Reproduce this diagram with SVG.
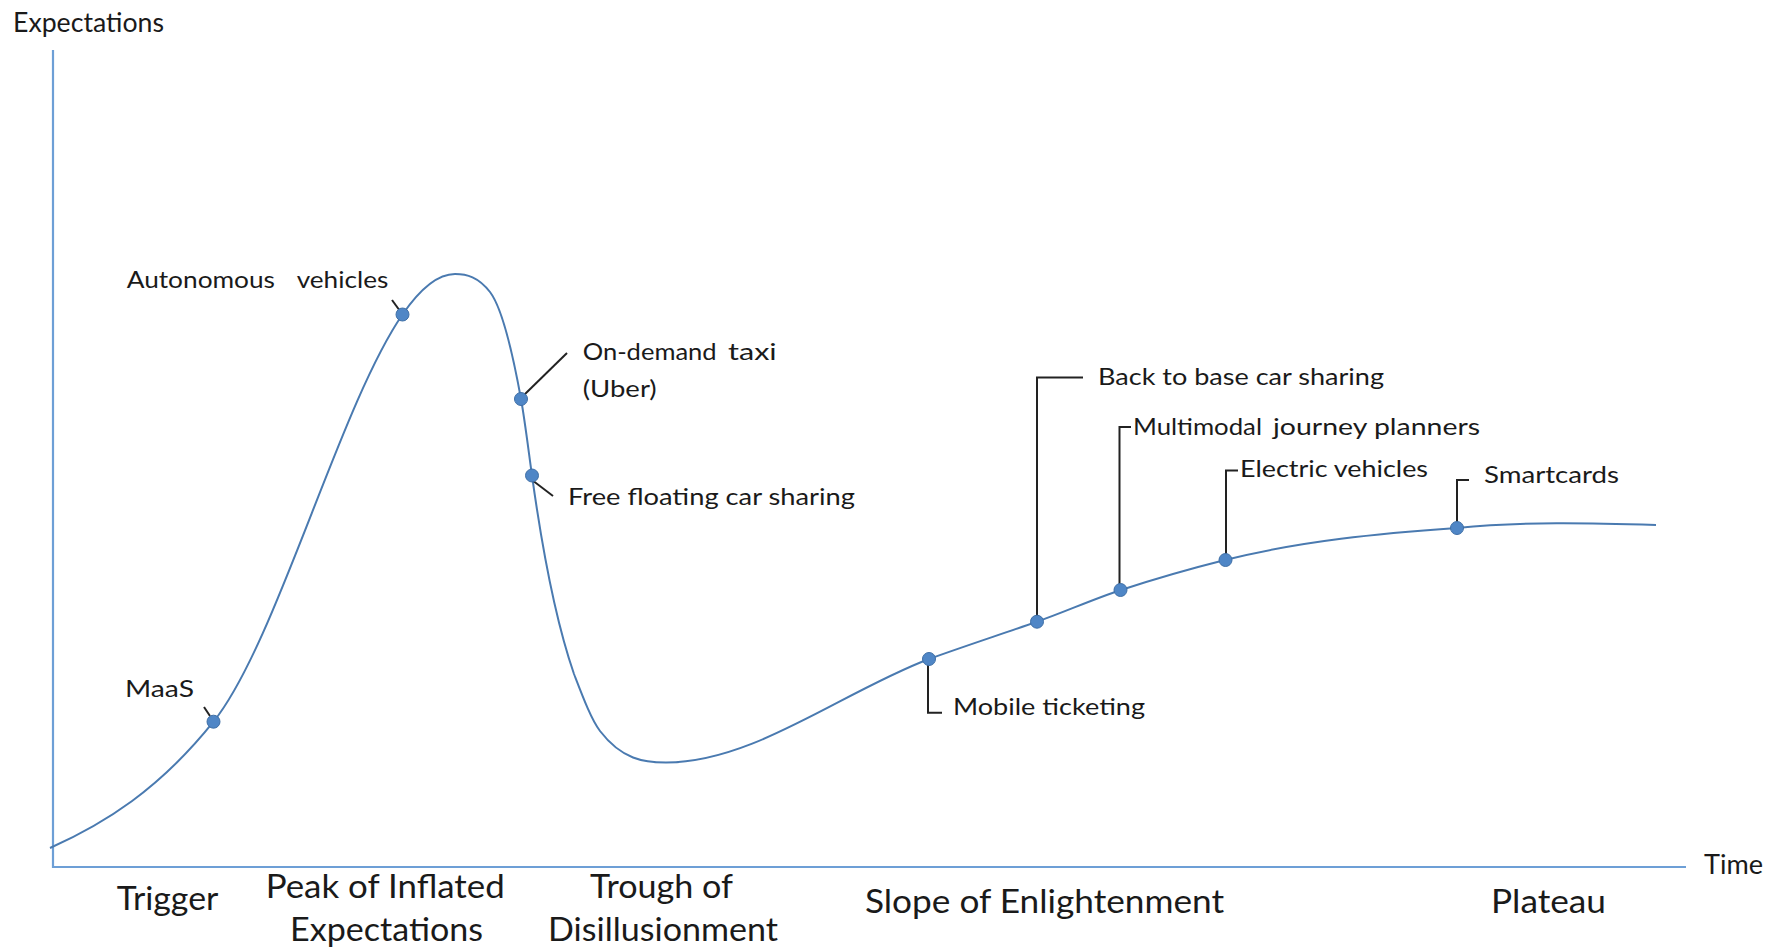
<svg xmlns="http://www.w3.org/2000/svg" width="1767" height="951" viewBox="0 0 1767 951">
<style>
text{font-family:Lato,"Open Sans","Liberation Sans",sans-serif;fill:#1a1a1a}
.ax{fill:none;stroke:#6d9fd6;stroke-width:2.2}
.curve{fill:none;stroke:#4a7ab0;stroke-width:2}
.lead{fill:none;stroke:#222;stroke-width:2}
.dot{fill:#4f86c6;stroke:#3f6fa6;stroke-width:1}
.sm{font-size:23.5px}
.ph{font-size:33px}
.axl{font-size:26px}
</style>
<rect width="1767" height="951" fill="#fff"/>
<g id="axes">
<path class="ax" d="M53,50 V867 H1686"/>
<text class="axl" x="13" y="31.5" textLength="151" lengthAdjust="spacingAndGlyphs">Expectations</text>
<text class="axl" x="1704" y="874" textLength="59" lengthAdjust="spacingAndGlyphs">Time</text>
</g>
<g id="hype-curve">
<path class="curve" d="M50,848 C104.5,823.5 159,789.8 213.5,721.7 C276.5,642.95 339.5,405.85 402.5,314.5 C420,289.1 437.5,274 455,274 C466.67,274 478.33,276.8 490,292 C500.33,305.4 510.67,342.2 521,399 C524.67,419.2 528.33,449.1 532,475.5 C546,576.3 560,633.6 574,674 C582.67,696.5 591.33,719.7 600,731 C622,759.6 644,762.5 666,762.5 C753.67,762.5 841.33,692.3 929,659 C965,646 1001,634.3 1037,621.7 C1065,611.9 1093,599.2 1121,590 C1155.67,578.6 1190.33,568.7 1225,560 C1302.33,540.7 1379.67,533.4 1457,528 C1523.33,521.4 1589.67,523 1656,525"/>
</g>
<g id="connectors">
<path class="lead" d="M392,300 L400,311"/>
<path class="lead" d="M204,707 L210,716"/>
<path class="lead" d="M524,395 L567,353"/>
<path class="lead" d="M532,480 L553,496"/>
<path class="lead" d="M1083,377.5 H1037 V621"/>
<path class="lead" d="M1131,427 H1119.5 V590"/>
<path class="lead" d="M1238,470.5 H1226 V560"/>
<path class="lead" d="M1469,480 H1457 V528"/>
<path class="lead" d="M928,659 V712.7 H942"/>
</g>
<g id="maas"><circle class="dot" cx="213.5" cy="721.7" r="6.5"/><text class="sm" x="125" y="697.3" textLength="69" lengthAdjust="spacingAndGlyphs">MaaS</text></g>
<g id="autonomous-vehicles"><circle class="dot" cx="402.5" cy="314.5" r="6.5"/><text class="sm" y="288.3"><tspan x="126.7" textLength="148.3" lengthAdjust="spacingAndGlyphs">Autonomous</tspan><tspan x="296.7" textLength="91.6" lengthAdjust="spacingAndGlyphs">vehicles</tspan></text></g>
<g id="on-demand-taxi"><circle class="dot" cx="521" cy="399" r="6.5"/><text class="sm" y="360"><tspan x="582.7" textLength="134" lengthAdjust="spacingAndGlyphs">On-demand</tspan><tspan x="728" textLength="48.7" lengthAdjust="spacingAndGlyphs">taxi</tspan></text><text class="sm" x="582.7" y="396.7" textLength="74" lengthAdjust="spacingAndGlyphs">(Uber)</text></g>
<g id="free-floating"><circle class="dot" cx="532" cy="475.5" r="6.5"/><text class="sm" x="568" y="505" textLength="287" lengthAdjust="spacingAndGlyphs">Free floating car sharing</text></g>
<g id="mobile-ticketing"><circle class="dot" cx="929" cy="659" r="6.5"/><text class="sm" x="953" y="715" textLength="192" lengthAdjust="spacingAndGlyphs">Mobile ticketing</text></g>
<g id="back-to-base"><circle class="dot" cx="1037" cy="621.7" r="6.5"/><text class="sm" x="1098" y="385" textLength="286" lengthAdjust="spacingAndGlyphs">Back to base car sharing</text></g>
<g id="multimodal"><circle class="dot" cx="1120.5" cy="590" r="6.5"/><text class="sm" y="435"><tspan x="1133" textLength="129" lengthAdjust="spacingAndGlyphs">Multimodal</tspan><tspan x="1273" textLength="207" lengthAdjust="spacingAndGlyphs">journey planners</tspan></text></g>
<g id="electric-vehicles"><circle class="dot" cx="1225.5" cy="560" r="6.5"/><text class="sm" x="1240" y="477" textLength="188" lengthAdjust="spacingAndGlyphs">Electric vehicles</text></g>
<g id="smartcards"><circle class="dot" cx="1457" cy="528" r="6.5"/><text class="sm" x="1484" y="483" textLength="135" lengthAdjust="spacingAndGlyphs">Smartcards</text></g>
<g id="phases">
<text class="ph" x="116.7" y="910" textLength="101.6" lengthAdjust="spacingAndGlyphs">Trigger</text>
<text class="ph" x="265.7" y="898" textLength="239" lengthAdjust="spacingAndGlyphs">Peak of Inflated</text>
<text class="ph" x="290" y="940.5" textLength="193" lengthAdjust="spacingAndGlyphs">Expectations</text>
<text class="ph" x="590" y="898" textLength="143" lengthAdjust="spacingAndGlyphs">Trough of</text>
<text class="ph" x="548" y="941" textLength="230" lengthAdjust="spacingAndGlyphs">Disillusionment</text>
<text class="ph" x="865" y="913" textLength="359" lengthAdjust="spacingAndGlyphs">Slope of Enlightenment</text>
<text class="ph" x="1491" y="913" textLength="115" lengthAdjust="spacingAndGlyphs">Plateau</text>
</g>
</svg>
